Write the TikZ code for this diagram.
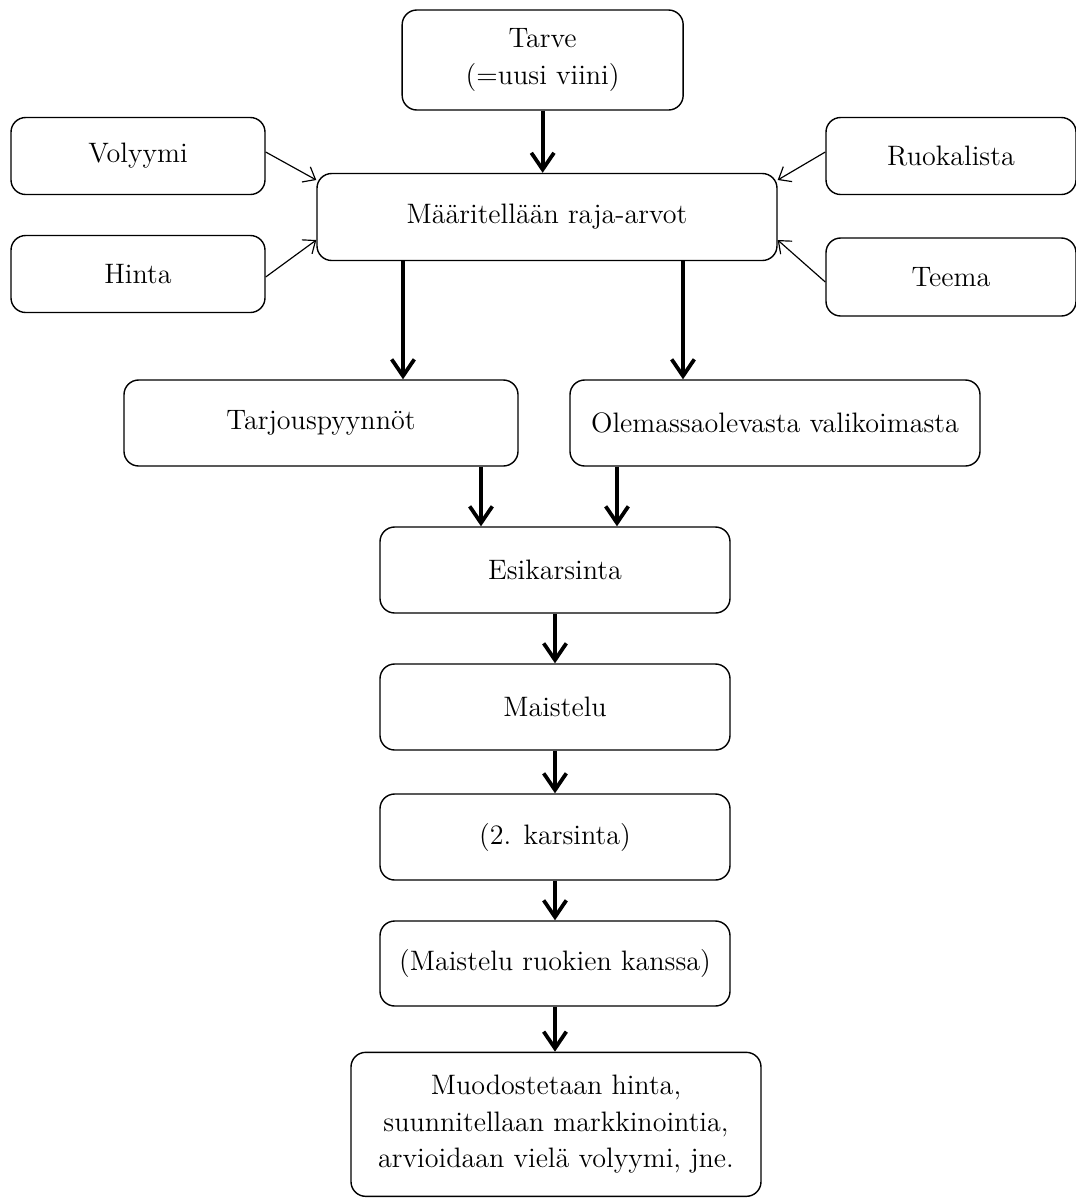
\documentclass[tikz,border=0pt]{standalone}
\usepackage{amsmath, amssymb}
\usepackage{xcolor}
\usetikzlibrary{arrows.meta}

\tikzset{
  box/.style={draw, rounded corners=0.22cm, align=center, inner sep=2pt,
    line width=0.6pt, font=\fontsize{12}{15.5}\selectfont},
  flow/.style={line width=1.6pt,
    -{Straight Barb[length=0.25cm, width=0.34cm, line width=1.6pt]}},
  feed/.style={line width=0.5pt,
    -{Straight Barb[length=0.16cm, width=0.26cm, line width=0.5pt]}}
}

\begin{document}
\begin{tikzpicture}
\useasboundingbox (0,0) rectangle (16.14,-17.97);

\node[box, minimum width=4.215cm, minimum height=1.5cm] (tarve) at (8.14,-0.9) {Tarve\\(=uusi viini)};
\node[box, minimum width=3.81cm, minimum height=1.155cm] (volyymi) at (2.07,-2.34) {Volyymi};
\node[box, minimum width=3.81cm, minimum height=1.155cm] (hinta) at (2.07,-4.11) {Hinta};
\node[box, minimum width=6.9cm, minimum height=1.305cm] (maar) at (8.205,-3.255) {Määritellään raja-arvot};
\node[box, minimum width=3.75cm, minimum height=1.155cm] (ruokalista) at (14.265,-2.34) {Ruokalista};
\node[box, minimum width=3.75cm, minimum height=1.17cm] (teema) at (14.265,-4.155) {Teema};

\node[box, minimum width=5.91cm, minimum height=1.29cm] (tarj) at (4.815,-6.345) {Tarjouspyynnöt};
\node[box, minimum width=6.15cm, minimum height=1.29cm] (olem) at (11.625,-6.345) {Olemassaolevasta valikoimasta};

\node[box, minimum width=5.25cm, minimum height=1.29cm] (esik) at (8.325,-8.55) {Esikarsinta};
\node[box, minimum width=5.25cm, minimum height=1.29cm] (mais) at (8.325,-10.605) {Maistelu};
\node[box, minimum width=5.25cm, minimum height=1.29cm] (kars) at (8.325,-12.555) {(2. karsinta)};
\node[box, minimum width=5.25cm, minimum height=1.275cm] (ruok) at (8.325,-14.4525) {(Maistelu ruokien kanssa)};
\node[box, minimum width=6.15cm, minimum height=2.16cm] (muod) at (8.34,-16.865)
  {Muodostetaan hinta,\\suunnitellaan markkinointia,\\arvioidaan vielä volyymi, jne.};

\draw[flow] (tarve.south) -- (tarve.south |- maar.north);

\draw[feed] ([yshift=0.06cm]volyymi.east) -- ([yshift=0.555cm]maar.west);
\draw[feed] ([yshift=-0.045cm]hinta.east) -- ([yshift=-0.345cm]maar.west);
\draw[feed] ([yshift=0.06cm]ruokalista.west) -- ([yshift=0.555cm]maar.east);
\draw[feed] ([yshift=-0.075cm]teema.west) -- ([yshift=-0.345cm]maar.east);

\draw[flow] ([xshift=-2.16cm]maar.south) -- ([xshift=-2.16cm]maar.south |- tarj.north);
\draw[flow] ([xshift=2.04cm]maar.south) -- ([xshift=2.04cm]maar.south |- olem.north);

\draw[flow] ([xshift=2.4cm]tarj.south) -- ([xshift=2.4cm]tarj.south |- esik.north);
\draw[flow] ([xshift=-2.37cm]olem.south) -- ([xshift=-2.37cm]olem.south |- esik.north);

\draw[flow] (esik.south) -- (mais.north);
\draw[flow] (mais.south) -- (kars.north);
\draw[flow] (kars.south) -- (ruok.north);
\draw[flow] (ruok.south) -- (ruok.south |- muod.north);
\end{tikzpicture}
\end{document}
